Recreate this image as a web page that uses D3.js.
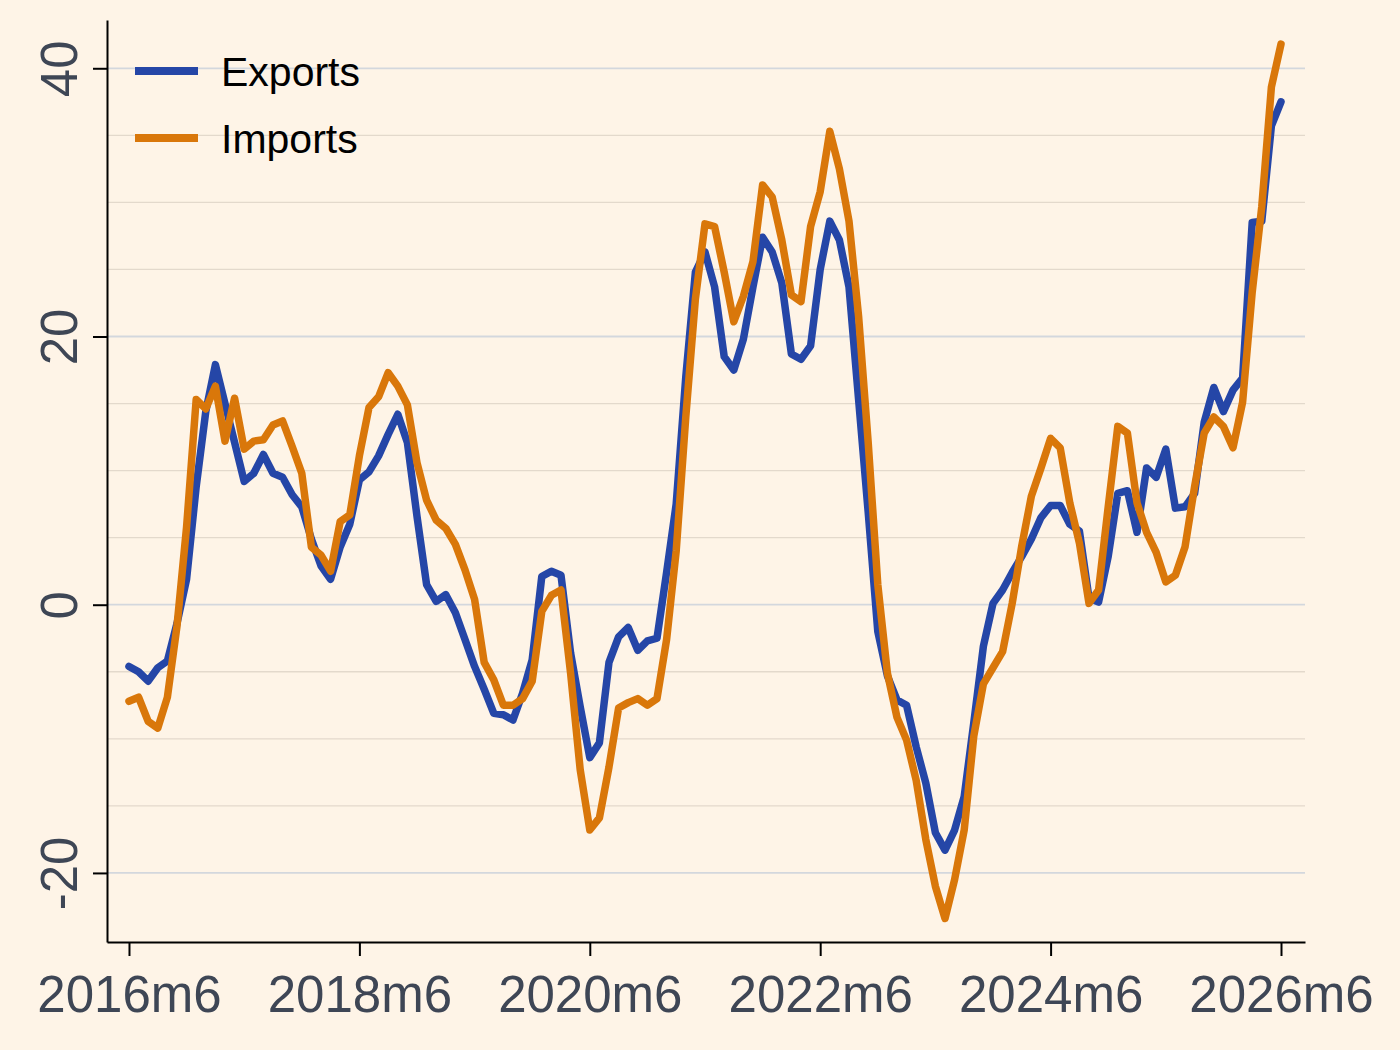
<!DOCTYPE html>
<html>
<head>
<meta charset="utf-8">
<script src="https://cdn.jsdelivr.net/npm/d3@7"></script>
<style>
  html, body { margin: 0; padding: 0; background: #fef4e7; }
  svg { display: block; }
</style>
</head>
<body>
<div id="chart"></div>
<script>
// monthly series, 2016m6 .. 2026m6 (index 0 = 2016m6)
const startYear = 2016, startMonth = 6;

const exportsVals = [
  -4.6, -5.0, -5.7, -4.7, -4.2, -1.4, 1.9, 8.8, 14.4, 17.9,
  15.0, 12.1, 9.2, 9.8, 11.2, 9.8, 9.5, 8.2, 7.3, 4.9,
  2.9, 1.9, 4.3, 6.0, 9.3, 9.9, 11.1, 12.7, 14.2, 12.1,
  6.6, 1.5, 0.25, 0.75, -0.6, -2.6, -4.6, -6.3, -8.1, -8.2,
  -8.6, -6.6, -4.1, 2.1, 2.5, 2.2, -3.6, -7.6, -11.4, -10.3,
  -4.3, -2.4, -1.7, -3.4, -2.7, -2.5, 2.4, 7.5, 17.0, 24.8,
  26.3, 23.7, 18.5, 17.5, 19.8, 23.7, 27.4, 26.3, 24.0, 18.7,
  18.3, 19.3, 25.0, 28.6, 27.2, 23.7, 15.3, 6.9, -2.0, -5.3,
  -7.1, -7.5, -10.6, -13.3, -17.0, -18.3, -16.8, -14.3, -8.8, -3.1,
  0.1, 1.1, 2.4, 3.6, 4.9, 6.5, 7.4, 7.4, 6.0, 5.5,
  0.5, 0.2, 3.6, 8.3, 8.5, 5.4, 10.2, 9.5, 11.6, 7.2,
  7.3, 8.3, 13.6, 16.2, 14.4, 16.0, 16.9, 28.5, 28.6, 35.7, 37.5
];

const importsVals = [
  -7.2, -6.9, -8.7, -9.2, -6.9, -1.6, 5.8, 15.3, 14.6, 16.3,
  12.2, 15.4, 11.6, 12.2, 12.3, 13.4, 13.7, 11.8, 9.8, 4.3,
  3.7, 2.5, 6.2, 6.7, 11.1, 14.7, 15.5, 17.3, 16.3, 14.9,
  10.6, 7.8, 6.3, 5.7, 4.5, 2.6, 0.4, -4.3, -5.6, -7.5,
  -7.5, -7.0, -5.7, -0.5, 0.7, 1.1, -5.1, -12.3, -16.8, -15.9,
  -12.1, -7.7, -7.3, -7.0, -7.5, -7.0, -2.6, 4.0, 14.0, 22.8,
  28.4, 28.2, 24.8, 21.1, 23.0, 25.6, 31.3, 30.4, 27.2, 23.1,
  22.6, 28.2, 30.8, 35.3, 32.5, 28.6, 21.5, 12.1, 1.5, -5.1,
  -8.4, -10.1, -13.1, -17.5, -21.0, -23.4, -20.5, -16.8, -9.8, -5.9,
  -4.7, -3.5, 0.1, 4.4, 8.1, 10.2, 12.4, 11.7, 7.6, 4.6,
  0.1, 1.1, 7.3, 13.3, 12.8, 7.6, 5.4, 3.9, 1.7, 2.2,
  4.3, 8.8, 12.8, 14.0, 13.3, 11.7, 15.1, 23.3, 29.7, 38.6, 41.8
];

const xTickLabels = ["2016m6", "2018m6", "2020m6", "2022m6", "2024m6", "2026m6"];
const yTicks = [-20, 0, 20, 40];
const yGrid = [-20, -15, -10, -5, 0, 5, 10, 15, 20, 25, 30, 35, 40];

const width = 1400, height = 1050;
const m = { t: 20, r: 95, b: 108, l: 107 };

const svg = d3.select("#chart").append("svg")
  .attr("width", width)
  .attr("height", height);

svg.append("rect")
  .attr("width", width).attr("height", height)
  .attr("fill", "#fef4e7");

// month index -> x
const x = d3.scaleLinear()
  .domain([-2.29, 122.5])
  .range([m.l, width - m.r]);

const y = d3.scaleLinear()
  .domain([-25.15, 43.6])
  .range([height - m.b, m.t]);

const tickIndex = lbl => {
  const [yy, mm] = lbl.split("m").map(Number);
  return (yy - startYear) * 12 + (mm - startMonth);
};

// gridlines
svg.append("g")
  .selectAll("line")
  .data(yGrid)
  .join("line")
  .attr("x1", m.l)
  .attr("x2", width - m.r)
  .attr("y1", d => y(d))
  .attr("y2", d => y(d))
  .attr("stroke", d => d % 20 === 0 ? "#d3d7dd" : "#e3d9cc")
  .attr("stroke-width", d => d % 20 === 0 ? 1.8 : 1.3);

// axes
const yAxis = svg.append("g")
  .attr("transform", `translate(${m.l},0)`)
  .call(d3.axisLeft(y).tickValues(yTicks).tickFormat(d => String(d))
    .tickSize(14).tickPadding(16).tickSizeOuter(0));

yAxis.select(".domain").attr("stroke", "#000").attr("stroke-width", 2);
yAxis.selectAll(".tick line").attr("stroke", "#000").attr("stroke-width", 2);
yAxis.selectAll(".tick text")
  .attr("fill", "#3e4655")
  .attr("font-family", "'Liberation Sans', Arial, sans-serif")
  .attr("font-size", "51px")
  .attr("text-anchor", "middle")
  .attr("dy", 0)
  .attr("x", 0)
  .attr("transform", "translate(-30,0) rotate(-90)");

const xAxis = svg.append("g")
  .attr("transform", `translate(0,${height - m.b})`)
  .call(d3.axisBottom(x)
    .tickValues(xTickLabels.map(tickIndex))
    .tickFormat((d, i) => xTickLabels[i])
    .tickSize(14).tickPadding(20).tickSizeOuter(0));

xAxis.select(".domain").attr("stroke", "#000").attr("stroke-width", 2);
xAxis.selectAll(".tick line").attr("stroke", "#000").attr("stroke-width", 2);
xAxis.selectAll(".tick text")
  .attr("fill", "#3e4655")
  .attr("font-family", "'Liberation Sans', Arial, sans-serif")
  .attr("font-size", "51px")
  .attr("dy", "0.71em");

// series
const series = [
  { k: "Exports", v: exportsVals, c: "#2546a7" },
  { k: "Imports", v: importsVals, c: "#d9770a" }
];

const line = d3.line()
  .x((d, i) => x(i))
  .y(d => y(d));

series.forEach(s => {
  svg.append("path")
    .datum(s.v)
    .attr("fill", "none")
    .attr("stroke", s.c)
    .attr("stroke-width", 7.5)
    .attr("stroke-linejoin", "round")
    .attr("stroke-linecap", "round")
    .attr("d", line);
});

// legend
const legend = svg.append("g");
series.forEach((s, i) => {
  const ly = 71 + i * 67;
  legend.append("line")
    .attr("x1", 135).attr("x2", 198)
    .attr("y1", ly).attr("y2", ly)
    .attr("stroke", s.c)
    .attr("stroke-width", 8);
  legend.append("text")
    .attr("x", 221)
    .attr("y", ly + 15)
    .attr("font-family", "'Liberation Sans', Arial, sans-serif")
    .attr("font-size", "41px")
    .attr("fill", "#000")
    .text(s.k);
});
</script>
</body>
</html>
